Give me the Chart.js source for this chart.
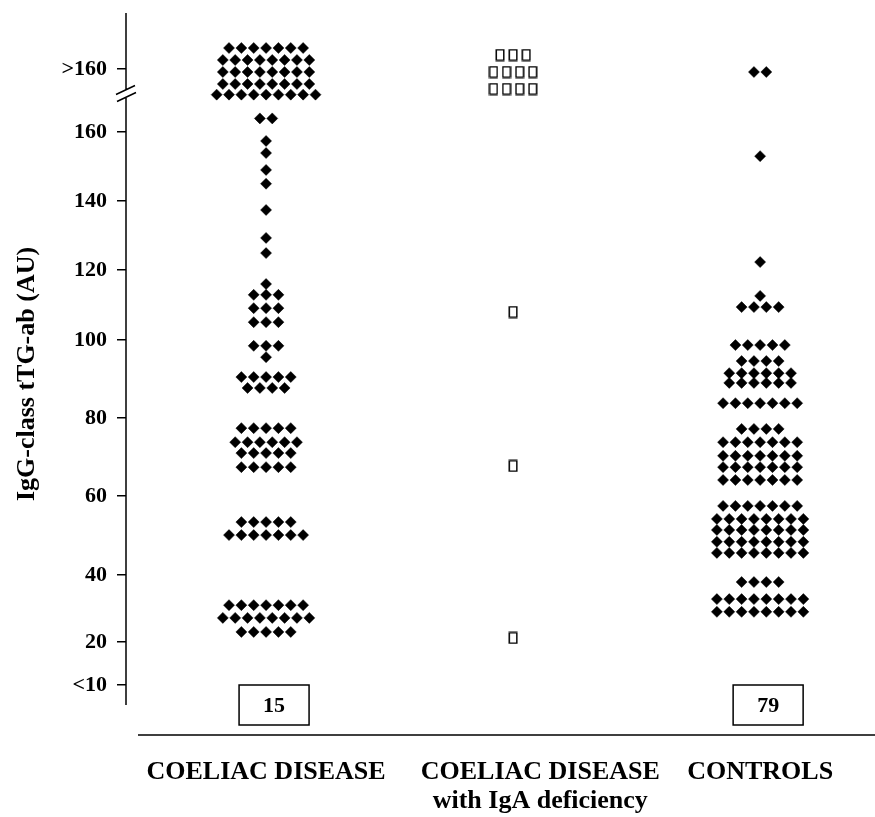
<!DOCTYPE html>
<html>
<head>
<meta charset="utf-8">
<title>IgG-class tTG-ab</title>
<script src="https://cdn.jsdelivr.net/npm/chart.js@4.4.1/dist/chart.umd.min.js"></script>
<style>
	html, body { margin: 0; padding: 0; background: #fff; }
	canvas { display: block; }
</style>
</head>
<body>
<canvas id="mycanvas" width="875" height="817"></canvas>
<script>
// groups along the x axis
var groups = [['COELIAC DISEASE'], ['COELIAC DISEASE', 'with IgA deficiency'], ['CONTROLS']];

// rows of dots: value in AU and how many dots sit on that row
var coeliacValues = [164, 157.4, 153.9, 149, 145, 137.4, 129.3, 124.9, 116, 112.9, 109.1, 105.1, 98.5, 95.6,
	90.5, 87.7, 77.4, 73.8, 71.0, 67.4, 53.4, 50.1, 31.0, 27.2, 23.0];
var coeliacCounts = [2, 1, 1, 1, 1, 1, 1, 1, 1, 3, 3, 3, 3, 1, 5, 4, 5, 6, 5, 5, 5, 7, 7, 8, 5];

var igaValues = [108, 67.7, 21.2];
var igaCounts = [1, 1, 1];

var controlValues = [153, 122.3, 112.6, 109.4, 98.7, 94.6, 91.5, 89.0, 83.8, 77.2, 73.8, 70.3, 67.4, 64.1,
	57.5, 54.2, 51.4, 48.4, 45.6, 37.9, 32.8, 29.0];
var controlCounts = [1, 1, 1, 4, 5, 4, 6, 6, 7, 4, 7, 7, 7, 7, 7, 8, 8, 8, 8, 4, 8, 8];

// dots in the >160 stack, row by row from the top
var coeliacOver = [7, 8, 8, 8, 9];
var igaOver = [3, 4, 4];
var controlOver = [2];

// patients under 10 AU, printed as a number in a box
var belowTen = [15, null, 79];

// y axis ticks
var tickValues = [5, 20, 40, 60, 80, 100, 120, 140, 160, 204.5];
var tickLabels = ['<10', '20', '40', '60', '80', '100', '120', '140', '160', '>160'];

var BELOW = 5, BREAK = 180, OVER_MID = 201.5;
var FONT = "'Liberation Serif', 'Times New Roman', serif";

// the printed axis is not evenly spaced: value -> place along the axis (0..722)
var knots = [[-20, 0], [5, 50], [20, 93], [40, 160], [60, 239], [80, 317], [100, 395], [120, 465],
	[140, 534], [160, 603], [170, 637], [180, 641.5], [262, 723.5]];
var AXIS_LEN = 722;

function interp(v, a, b) {
	for (var i = 1; i < knots.length; i++) {
		if (v <= knots[i][a] || i == knots.length - 1) {
			var k0 = knots[i - 1], k1 = knots[i];
			return k0[b] + (v - k0[a]) / (k1[a] - k0[a]) * (k1[b] - k0[b]);
		}
	}
}

class KnotScale extends Chart.LinearScale {
	getPixelForValue(v) {
		if (v === null || v === undefined || isNaN(v)) return NaN;
		return this.getPixelForDecimal(interp(v, 0, 1) / AXIS_LEN);
	}
	getValueForPixel(p) {
		return interp(this.getDecimalForPixel(p) * AXIS_LEN, 1, 0);
	}
}
KnotScale.id = 'knot';
KnotScale.defaults = Chart.LinearScale.defaults;
Chart.register(KnotScale);

function dots(group, values, counts, over, step, rowGap) {
	var pts = [];
	for (var r = 0; r < values.length; r++) {
		for (var i = 0; i < counts[r]; i++) {
			pts.push({x: group + (i - (counts[r] - 1) / 2) * step, y: values[r]});
		}
	}
	for (var r = 0; r < over.length; r++) {
		var y = OVER_MID + ((over.length - 1) / 2 - r) * rowGap;
		for (var i = 0; i < over[r]; i++) {
			pts.push({x: group + (i - (over[r] - 1) / 2) * step, y: y});
		}
	}
	return pts;
}

// open box marker for the IgA deficient patients
var box = document.createElement('canvas');
box.width = 10;
box.height = 13;
var bctx = box.getContext('2d');
bctx.strokeStyle = '#000';
bctx.lineWidth = 1.5;
bctx.strokeRect(1.25, 1.25, 7.5, 10.5);

var frame = {
	id: 'frame',
	afterDraw: function(chart) {
		var ctx = chart.ctx, x = chart.scales.x, y = chart.scales.y;
		var ax = y.right;
		var yb = y.getPixelForValue(BREAK);
		var yLow = y.getPixelForValue(BELOW);
		ctx.save();
		ctx.strokeStyle = '#000';
		ctx.lineWidth = 1.5;
		ctx.beginPath();
		ctx.moveTo(ax, chart.chartArea.top);
		ctx.lineTo(ax, yb - 3);
		ctx.moveTo(ax, yb + 4);
		ctx.lineTo(ax, yLow + 20);
		// break marks
		ctx.moveTo(ax - 10, yb + 1);
		ctx.lineTo(ax + 9, yb - 8);
		ctx.moveTo(ax - 9, yb + 8);
		ctx.lineTo(ax + 10, yb - 1);
		// x axis
		ctx.moveTo(ax + 12, x.top);
		ctx.lineTo(x.right, x.top);
		ctx.stroke();

		ctx.font = 'bold 22px ' + FONT;
		ctx.textAlign = 'center';
		ctx.textBaseline = 'middle';
		ctx.fillStyle = '#000';
		for (var i = 0; i < belowTen.length; i++) {
			if (belowTen[i] === null) continue;
			var cx = x.getPixelForValue(i + 1) + 8;
			ctx.strokeRect(cx - 35, yLow, 70, 40);
			ctx.fillText(belowTen[i], cx, yLow + 21);
		}
		ctx.restore();
	}
};

var labelAt = [1, 2.11, 3];

var ctx = document.getElementById('mycanvas');
var chart = new Chart(ctx, {
	type: 'scatter',
	data: {
		datasets: [
			{
				label: 'Coeliac disease',
				data: dots(1, coeliacValues, coeliacCounts, coeliacOver, 0.05, 12),
				pointStyle: 'rectRot',
				pointRadius: 5.5,
				backgroundColor: '#000',
				borderColor: '#000',
				borderWidth: 0.5
			},
			{
				label: 'Coeliac disease with IgA deficiency',
				data: dots(2, igaValues, igaCounts, igaOver, 0.053, 17),
				pointStyle: box,
				pointRadius: 6
			},
			{
				label: 'Controls',
				data: dots(3, controlValues, controlCounts, controlOver, 0.05, 12),
				pointStyle: 'rectRot',
				pointRadius: 5.5,
				backgroundColor: '#000',
				borderColor: '#000',
				borderWidth: 0.5
			}
		]
	},
	options: {
		responsive: false,
		animation: false,
		devicePixelRatio: 1,
		layout: {autoPadding: false, padding: {top: 13, left: 0, right: 0, bottom: 0}},
		plugins: {legend: {display: false}, tooltip: {enabled: false}},
		scales: {
			x: {
				type: 'linear',
				min: 0.433,
				max: 3.465,
				grid: {display: false, drawTicks: false},
				border: {display: false},
				afterBuildTicks: function(s) {
					s.ticks = labelAt.map(function(v) { return {value: v}; });
				},
				afterFit: function(s) {
					s.height = 82;
					s.paddingLeft = 0;
					s.paddingRight = 0;
				},
				ticks: {
					autoSkip: false,
					maxRotation: 0,
					padding: 23,
					color: '#000',
					font: {family: FONT, size: 26, weight: 'bold', lineHeight: 1.1},
					callback: function(v, i) { return groups[i]; }
				}
			},
			y: {
				type: 'knot',
				min: -20,
				max: 261,
				grid: {drawOnChartArea: false, drawTicks: true, tickLength: 9, color: '#000', lineWidth: 1.5},
				border: {display: false},
				afterBuildTicks: function(s) {
					s.ticks = tickValues.map(function(v) { return {value: v}; });
				},
				afterFit: function(s) {
					s.width = 126;
					s.paddingTop = 0;
					s.paddingBottom = 0;
				},
				ticks: {
					padding: 10,
					color: '#000',
					font: {family: FONT, size: 22, weight: 'bold'},
					callback: function(v, i) { return tickLabels[i]; }
				},
				title: {
					display: true,
					text: 'IgG-class tTG-ab (AU)',
					color: '#000',
					padding: {top: 12, bottom: 0},
					font: {family: FONT, size: 26, weight: 'bold'}
				}
			}
		}
	},
	plugins: [frame]
});
</script>
</body>
</html>
